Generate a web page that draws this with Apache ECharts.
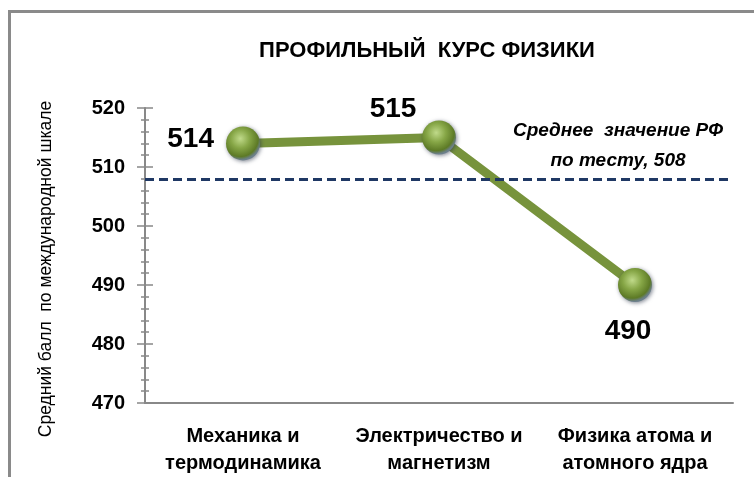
<!DOCTYPE html>
<html><head><meta charset="utf-8">
<script src="https://cdn.jsdelivr.net/npm/echarts@6/dist/echarts.min.js"></script>
<style>html,body{margin:0;padding:0;background:#fff}#c{width:754px;height:477px}</style>
</head><body><div id="c"></div>
<script>
const categories = ['Механика и\nтермодинамика', 'Электричество и\nмагнетизм', 'Физика атома и\nатомного ядра'];
const scores = [514, 515, 490];
const averageRF = 508;
const yTicks = [470, 480, 490, 500, 510, 520];
const titleText = 'ПРОФИЛЬНЫЙ  КУРС ФИЗИКИ';
const yAxisTitle = 'Средний балл  по международной шкале';
const avgLabel = 'Среднее  значение РФ\nпо тесту, 508';

const FONT = '"Liberation Sans",Arial,sans-serif';
const labelStyles = [
  {position: 'left', distance: 12, offset: [0, -4]},
  {position: 'top', offset: [-46, 8]},
  {position: 'bottom', offset: [-7, 10]}
];
const sphere = {
  type: 'radial', x: 0.42, y: 0.36, r: 0.62,
  colorStops: [
    {offset: 0, color: '#c0da8a'},
    {offset: 0.45, color: '#86a646'},
    {offset: 0.85, color: '#5d7a26'},
    {offset: 1, color: '#6b7f8a'}
  ]
};

const chart = echarts.init(document.getElementById('c'), null, {renderer: 'canvas'});
chart.setOption({
  animation: false,
  title: {
    text: titleText, left: 422, top: 35, textAlign: 'center',
    textStyle: {fontFamily: FONT, fontSize: 22, fontWeight: 'bold', color: '#000'}
  },
  graphic: [
    {type: 'rect', shape: {x: 9.5, y: 11.5, width: 760, height: 480},
     style: {fill: 'none', stroke: '#8a8a8a', lineWidth: 3}, silent: true},
    {type: 'text', x: 618, y: 116, style: {text: avgLabel, textAlign: 'center',
      font: 'italic bold 19px ' + FONT, lineHeight: 30, fill: '#000'}},
    {type: 'text', x: 46, y: 269, rotation: Math.PI / 2,
     style: {text: yAxisTitle, textAlign: 'center', textVerticalAlign: 'middle',
      font: '17.5px ' + FONT, fill: '#000'}}
  ],
  grid: {left: 145, right: 21, top: 108, bottom: 74},
  xAxis: {
    type: 'category', data: categories, boundaryGap: true,
    axisLine: {lineStyle: {color: '#888', width: 2}},
    axisTick: {length: 7, lineStyle: {color: '#888', width: 1.5}},
    axisLabel: {fontFamily: FONT, fontSize: 20, fontWeight: 'bold', color: '#000',
      lineHeight: 27, margin: 20, interval: 0}
  },
  yAxis: [
    {type: 'value', min: yTicks[0], max: yTicks[yTicks.length - 1], interval: 10,
     axisLine: {show: true, lineStyle: {color: '#888', width: 2}},
     axisTick: {show: true, length: 8, lineStyle: {color: '#888', width: 1.5}},
     minorTick: {show: true, splitNumber: 5, length: 4, lineStyle: {color: '#888', width: 1.5}},
     splitLine: {show: false},
     axisLabel: {fontFamily: FONT, fontSize: 20, fontWeight: 'bold', color: '#000', margin: 20}},
    {type: 'value', min: yTicks[0], max: yTicks[yTicks.length - 1], interval: 10, position: 'left',
     axisLine: {show: false},
     axisTick: {show: true, inside: true, length: 8, lineStyle: {color: '#888', width: 1.5}},
     minorTick: {show: true, splitNumber: 5, length: 4, lineStyle: {color: '#888', width: 1.5}},
     splitLine: {show: false}, axisLabel: {show: false}}
  ],
  series: [{
    type: 'line',
    data: scores.map((v, i) => ({value: v, label: labelStyles[i]})),
    lineStyle: {color: '#77933c', width: 9},
    symbol: 'circle', symbolSize: 34,
    itemStyle: {color: sphere, shadowBlur: 4, shadowColor: 'rgba(40,50,70,0.6)', shadowOffsetX: 1, shadowOffsetY: 1},
    label: {show: true, fontFamily: FONT, fontSize: 28, fontWeight: 'bold', color: '#000'},
    markLine: {
      silent: true, symbol: 'none', label: {show: false},
      lineStyle: {color: '#1f3864', width: 3, type: [9, 5]},
      data: [{yAxis: averageRF}]
    },
    z: 3
  }]
});
</script></body></html>
